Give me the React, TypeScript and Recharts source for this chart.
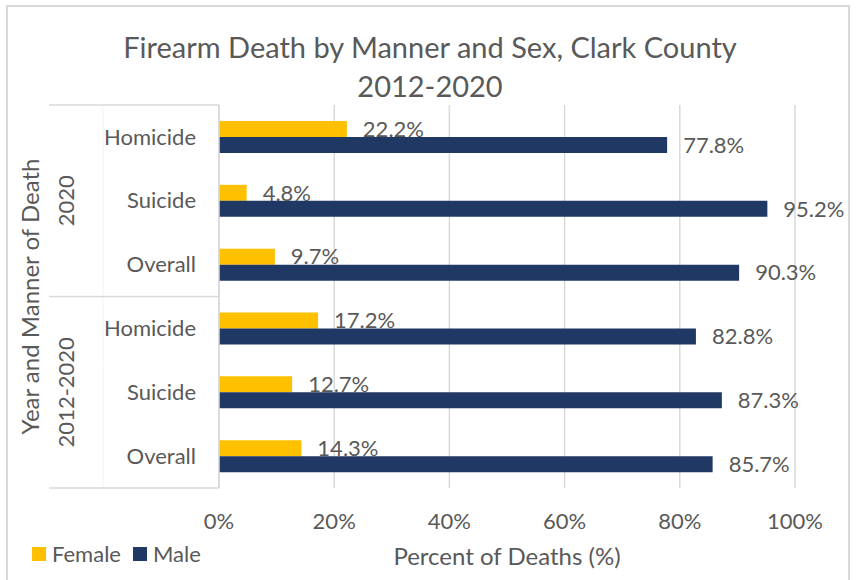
import { Bar, BarChart, CartesianGrid, LabelList, Legend, XAxis, YAxis } from 'recharts';

const groups = ['2020', '2020', '2020', '2012-2020', '2012-2020', '2012-2020'];
const manners = ['Homicide', 'Suicide', 'Overall', 'Homicide', 'Suicide', 'Overall'];
const femalePct = [22.2, 4.8, 9.7, 17.2, 12.7, 14.3];
const malePct = [77.8, 95.2, 90.3, 82.8, 87.3, 85.7];
const xTicks = [0, 20, 40, 60, 80, 100];

const TEXT = '#595959';
const LINE = '#d9d9d9';
const FEMALE = '#FFC000';
const MALE = '#203864';
const FONT = 'Lato, "Open Sans", sans-serif';

const W = 856;
const H = 580;
const MARGIN = { top: 105, right: 61, bottom: 32, left: 0 };
const Y_AXIS_W = 219;
const X_AXIS_H = 60;
const GROUP_LINE_LEFT = 49;
const GROUP_LABEL_X = 66;
const DIVIDER_X = 103;

const data = manners.map((m, i) => ({
  id: `${groups[i]}|${m}|${i}`,
  manner: m,
  group: groups[i],
  female: femalePct[i],
  male: malePct[i]
}));

const fallbackHalf = (H - MARGIN.top - MARGIN.bottom - X_AXIS_H) / data.length / 2;

function CategoryTick(props: any) {
  const { x, y, payload } = props;
  const index = props.index ?? payload?.index ?? 0;
  const half = payload?.offset || fallbackHalf;
  const row = data[index];
  if (!row) return null;
  const isFirst = index === 0 || groups[index - 1] !== row.group;
  const isLast = index === data.length - 1;
  let last = index;
  while (last + 1 < groups.length && groups[last + 1] === row.group) last++;
  const centerY = y + (last - index) * half;
  const axisX = MARGIN.left + Y_AXIS_W;

  return (
    <g>
      <text x={x} y={y} dy="0.35em" textAnchor="end" fill={TEXT} fontSize={22}>
        {row.manner}
      </text>
      <line x1={DIVIDER_X} x2={DIVIDER_X} y1={y - half} y2={y + half} stroke="#f3f3f3" strokeWidth={1} />
      {isFirst && (
        <>
          <line x1={GROUP_LINE_LEFT} x2={axisX} y1={y - half} y2={y - half} stroke={LINE} strokeWidth={1.5} />
          <text
            x={GROUP_LABEL_X}
            y={centerY}
            dy="0.35em"
            textAnchor="middle"
            fill={TEXT}
            fontSize={22}
            transform={`rotate(-90 ${GROUP_LABEL_X} ${centerY})`}
          >
            {row.group}
          </text>
        </>
      )}
      {isLast && (
        <line x1={GROUP_LINE_LEFT} x2={axisX} y1={y + half} y2={y + half} stroke={LINE} strokeWidth={1.5} />
      )}
    </g>
  );
}

function YTitle(props: any) {
  const vb = props.viewBox || { y: MARGIN.top, height: 383 };
  const cy = vb.y + vb.height / 2;
  return (
    <text
      x={31}
      y={cy}
      dy="0.35em"
      textAnchor="middle"
      fill={TEXT}
      fontSize={24}
      transform={`rotate(-90 31 ${cy})`}
    >
      Year and Manner of Death
    </text>
  );
}

function LegendContent() {
  const items = [
    { name: 'Female', color: FEMALE },
    { name: 'Male', color: MALE }
  ];
  return (
    <div style={{ display: 'flex', alignItems: 'center', fontFamily: FONT, fontSize: 22, color: TEXT }}>
      {items.map((it) => (
        <div key={it.name} style={{ display: 'flex', alignItems: 'center', marginRight: 12 }}>
          <span style={{ width: 14, height: 14, background: it.color, display: 'inline-block', marginRight: 6 }} />
          <span>{it.name}</span>
        </div>
      ))}
    </div>
  );
}

export default function App() {
  return (
    <div style={{ position: 'absolute', left: 0, top: 0, width: W, height: H, overflow: 'hidden', background: '#fff', fontFamily: FONT }}>
      <div
        style={{
          position: 'absolute',
          left: 6,
          top: 5,
          width: 844,
          height: 620,
          border: `2px solid ${LINE}`,
          boxSizing: 'border-box'
        }}
      />
      <div
        style={{
          position: 'absolute',
          left: 0,
          top: 27,
          width: 860,
          textAlign: 'center',
          fontSize: 29,
          lineHeight: '39px',
          color: TEXT
        }}
      >
        Firearm Death by Manner and Sex, Clark County
        <br />
        2012-2020
      </div>
      <div style={{ position: 'absolute', left: 0, top: 0 }}>
        <BarChart
          width={W}
          height={H}
          data={data}
          layout="vertical"
          margin={MARGIN}
          barCategoryGap={16}
          barGap={0}
        >
          <CartesianGrid horizontal={false} stroke={LINE} strokeWidth={1.5} />
          <XAxis
            type="number"
            domain={[0, 100]}
            ticks={xTicks}
            tickFormatter={(v) => `${v}%`}
            axisLine={false}
            tickLine={false}
            tickSize={0}
            tickMargin={25}
            height={X_AXIS_H}
            tick={{ fill: TEXT, fontSize: 22 }}
            label={{ value: 'Percent of Deaths (%)', position: 'insideBottom', offset: -17, fill: TEXT, fontSize: 24 }}
          />
          <YAxis
            type="category"
            dataKey="id"
            width={Y_AXIS_W}
            axisLine={{ stroke: LINE, strokeWidth: 1.5 }}
            tickLine={false}
            tickSize={0}
            tickMargin={23}
            interval={0}
            tick={<CategoryTick />}
            label={{ content: <YTitle /> }}
          />
          <Legend
            layout="horizontal"
            align="center"
            verticalAlign="middle"
            content={<LegendContent />}
            wrapperStyle={{ left: 32, top: 540, width: 'auto' }}
          />
          <Bar dataKey="female" name="Female" fill={FEMALE} isAnimationActive={false}>
            <LabelList
              dataKey="female"
              position="right"
              offset={16}
              formatter={(v: any) => `${Number(v).toFixed(1)}%`}
              fill={TEXT}
              fontSize={22}
            />
          </Bar>
          <Bar dataKey="male" name="Male" fill={MALE} isAnimationActive={false}>
            <LabelList
              dataKey="male"
              position="right"
              offset={16}
              formatter={(v: any) => `${Number(v).toFixed(1)}%`}
              fill={TEXT}
              fontSize={22}
            />
          </Bar>
        </BarChart>
      </div>
    </div>
  );
}
